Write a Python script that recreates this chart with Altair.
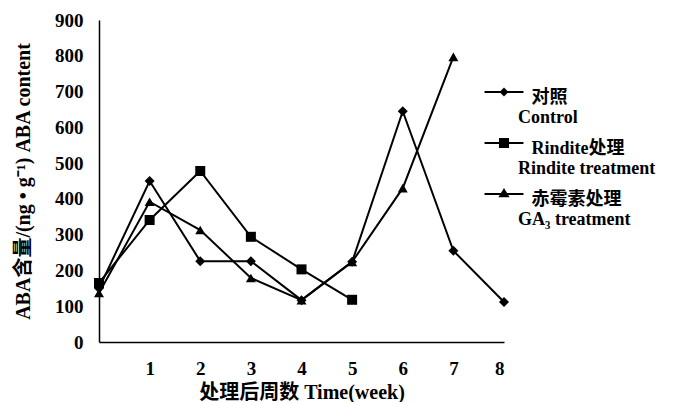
import altair as alt
import pandas as pd

# ---- data ----
# a zero-width char keeps Vega from trimming the indent of the first label line
series_names = ["\u200b\u00a0\u00a0\u00a0对照|Control",
                "\u200b\u00a0\u00a0\u00a0Rindite处理|Rindite treatment",
                "\u200b\u00a0\u00a0\u00a0赤霉素处理|GA₃ treatment"]
weeks_control = [0, 1, 2, 3, 4, 5, 6, 7, 8]
control = [150, 450, 226, 226, 117, 224, 645, 255, 112]
weeks_rindite = [0, 1, 2, 3, 4, 5]
rindite = [165, 341, 478, 294, 203, 118]
weeks_ga = [0, 1, 2, 3, 4, 5, 6, 7]
ga3 = [137, 392, 313, 179, 117, 224, 430, 797]
x_ticks = [1, 2, 3, 4, 5, 6, 7, 8]
y_ticks = [0, 100, 200, 300, 400, 500, 600, 700, 800, 900]

rows = []
for name, ws, vs in zip(series_names, [weeks_control, weeks_rindite, weeks_ga], [control, rindite, ga3]):
    for w, v in zip(ws, vs):
        rows.append({"series": name, "week": w, "aba": v})
df = pd.DataFrame(rows)

FONT = "'Liberation Serif', 'Noto Sans CJK SC', serif"

x_enc = alt.X("week:Q", scale=alt.Scale(domain=[0, 8], nice=False),
              axis=alt.Axis(values=x_ticks, title="处理后周数  Time(week)", labelPadding=17,
                            titlePadding=4, labelOverlap=False))
y_enc = alt.Y("aba:Q", scale=alt.Scale(domain=[0, 900], nice=False),
              axis=alt.Axis(values=y_ticks, title="ABA含量/(ng • g⁻¹)  ABA content",
                            labelPadding=16, titlePadding=21, labelOverlap=False))

base = alt.Chart(df)

lines = base.mark_line(color="black", strokeWidth=2).encode(
    x=x_enc, y=y_enc, detail="series:N")

points = base.mark_point(filled=True, color="black", opacity=1, size=100).encode(
    x=x_enc, y=y_enc,
    shape=alt.Shape("series:N", scale=alt.Scale(domain=series_names,
                                                range=["diamond", "square", "triangle-up"]),
                    legend=None))

# legend glyphs: a short bar (the line) plus the marker, all filled
legend_paths = [
    "M-1.39,-0.5H1.39V-0.36H-1.39Z M0,-0.75L0.32,-0.43L0,-0.11L-0.32,-0.43Z",
    "M-1.39,-0.5H1.39V-0.36H-1.39Z M-0.36,-0.79H0.36V-0.07H-0.36Z",
    "M-1.39,-0.5H1.39V-0.36H-1.39Z M0,-0.86L0.4,-0.2H-0.4Z",
]

legend_layer = base.transform_filter("false").mark_point(filled=True, color="black", opacity=1).encode(
    x=x_enc, y=y_enc,
    shape=alt.Shape("series:N", scale=alt.Scale(domain=series_names, range=legend_paths),
                    legend=alt.Legend(title=None, orient="none", legendX=391, legendY=64,
                                      labelExpr="split(datum.label, '|')",
                                      labelFont=FONT, labelFontSize=18, labelFontWeight="bold",
                                      labelColor="black", labelOffset=0, labelLimit=400,
                                      rowPadding=8, symbolSize=784,
                                      symbolFillColor="black", symbolStrokeWidth=0,
                                      padding=0)))

chart = alt.layer(lines, points, legend_layer).resolve_scale(shape="independent").properties(
    width=405, height=322, padding={"left": 5, "top": 3, "right": 5, "bottom": 2}
).configure_view(stroke=None).configure_axis(
    grid=False, ticks=False, domainColor="black", domainWidth=1.5, labelOverlap=False,
    labelFont=FONT, labelFontSize=19, labelFontWeight="bold", labelColor="black",
    titleFont=FONT, titleFontSize=20, titleFontWeight="bold", titleColor="black"
)

chart.save("out.html", embed_options={"renderer": "svg", "actions": False})
